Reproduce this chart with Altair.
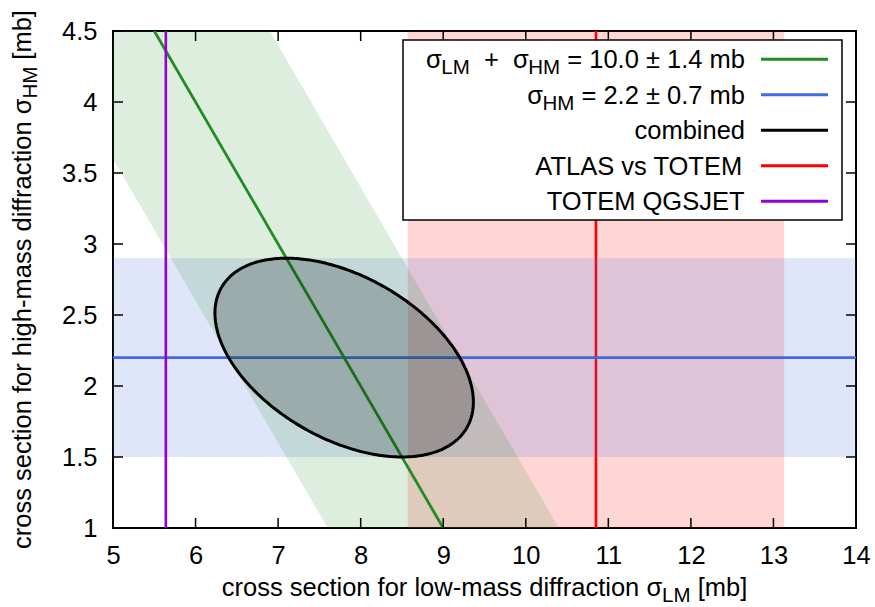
import numpy as np
import pandas as pd
import altair as alt

# ---------------- data ----------------
x_ticks = [5, 6, 7, 8, 9, 10, 11, 12, 13, 14]
y_ticks = [1.0, 1.5, 2.0, 2.5, 3.0, 3.5, 4.0, 4.5]
x_domain = [5, 14]
y_domain = [1, 4.5]

sum_value, sum_error = 10.0, 1.4                 # sigma_LM + sigma_HM
hm_value, hm_error = 2.2, 0.7                     # sigma_HM
atlas_totem_value, atlas_totem_error = 10.85, 2.28  # sigma_LM (ATLAS vs TOTEM)
totem_qgsjet_value = 5.64                         # sigma_LM (TOTEM QGSJET)

legend_rows = [
    [("σ", "main"), ("LM", "sub"), ("  +", "main"), ("  σ", "main"), ("HM", "sub"), (" = 10.0 ± 1.4 mb", "main")],
    [("σ", "main"), ("HM", "sub"), (" = 2.2 ± 0.7 mb", "main")],
    [("combined", "main")],
    [("ATLAS vs TOTEM", "main")],
    [("TOTEM QGSJET", "main")],
]
legend_colors = ["#228b22", "#4169e1", "#000000", "#ff0000", "#9400d3"]
x_title = [("cross section for low-mass diffraction σ", "main"), ("LM", "sub"), (" [mb]", "main")]
y_title = [("cross section for high-mass diffraction σ", "main"), ("HM", "sub"), (" [mb]", "main")]

GREEN, BLUE, BLACK, RED, PURPLE = legend_colors

# ---------------- layout ----------------
W, H = 743, 497
PAD = {"left": 113, "top": 31, "right": 19, "bottom": 79}
FONT = "Liberation Sans"
FS, FS_SUB, SUB_DY = 25.5, 20.5, 6

# Arial / Helvetica advance widths (per 1000 em)
AW = {' ': 278, '+': 584, '=': 584, '±': 549, '.': 278, '-': 333, '[': 278, ']': 278, 'σ': 600}
for d in "0123456789":
    AW[d] = 556
AW.update(dict(zip("abcdefghijklmnopqrstuvwxyz",
                   [556, 556, 500, 556, 556, 278, 556, 556, 222, 222, 500, 222, 833, 556, 556, 556, 556,
                    333, 500, 278, 556, 500, 722, 500, 500, 500])))
AW.update(dict(zip("ABCDEFGHIJKLMNOPQRSTUVWXYZ",
                   [667, 667, 722, 722, 667, 611, 778, 722, 278, 500, 667, 556, 833, 722, 778, 667, 778,
                    722, 667, 611, 722, 667, 944, 667, 667, 611])))


def seg_size(kind):
    return FS if kind == "main" else FS_SUB


def text_w(s, size):
    return sum(AW.get(c, 556) for c in s) / 1000.0 * size


def layout(segments, start):
    """Return (visible text, font size, position of first visible glyph, baseline shift)."""
    out, pos = [], start
    for s, kind in segments:
        size = seg_size(kind)
        lead = len(s) - len(s.lstrip(" "))
        out.append((s.strip(" "), size, pos + text_w(" " * lead, size), SUB_DY if kind == "sub" else 0))
        pos += text_w(s, size)
    return out


def total_w(segments):
    return sum(text_w(s, seg_size(k)) for s, k in segments)


xs = alt.Scale(domain=x_domain, nice=False, zero=False)
ys = alt.Scale(domain=y_domain, nice=False, zero=False)
x_axis = alt.Axis(values=x_ticks, ticks=False, domain=False, grid=False, labelFontSize=FS,
                  labelFont=FONT, labelColor="black", labelPadding=15, title=None, format="d",
                  labelOverlap=False, labelFlush=False)
y_axis = alt.Axis(values=y_ticks, ticks=False, domain=False, grid=False, labelFontSize=FS,
                  labelFont=FONT, labelColor="black", labelPadding=16, title=None, format="~g",
                  labelOverlap=False, labelFlush=False)


def X(f):
    return alt.X(f, type="quantitative", scale=xs, axis=x_axis)


def Y(f):
    return alt.Y(f, type="quantitative", scale=ys, axis=y_axis)


one = pd.DataFrame({"k": [0]})
layers = []

# ATLAS vs TOTEM band + line
red_df = pd.DataFrame({"x": [atlas_totem_value - atlas_totem_error], "x2": [atlas_totem_value + atlas_totem_error],
                       "y": [y_domain[0]], "y2": [y_domain[1]]})
layers.append(alt.Chart(red_df).mark_rect(color=RED, opacity=0.16, clip=True)
              .encode(x=X("x"), x2="x2", y=Y("y"), y2="y2"))
layers.append(alt.Chart(pd.DataFrame({"x": [atlas_totem_value]})).mark_rule(color=RED, strokeWidth=2.6)
              .encode(x=X("x")))

# sigma_HM band + line
blue_df = pd.DataFrame({"x": [x_domain[0]], "x2": [x_domain[1]],
                        "y": [hm_value - hm_error], "y2": [hm_value + hm_error]})
layers.append(alt.Chart(blue_df).mark_rect(color=BLUE, opacity=0.17, clip=True)
              .encode(x=X("x"), x2="x2", y=Y("y"), y2="y2"))
layers.append(alt.Chart(pd.DataFrame({"y": [hm_value]})).mark_rule(color=BLUE, strokeWidth=2.6)
              .encode(y=Y("y")))

# sum band + line
ys_band = np.array(y_domain, dtype=float)
green_df = pd.DataFrame({"y": ys_band, "xl": sum_value - sum_error - ys_band, "xh": sum_value + sum_error - ys_band})
layers.append(alt.Chart(green_df).mark_area(color=GREEN, opacity=0.15, clip=True, orient="horizontal")
              .encode(y=Y("y"), x=X("xl"), x2="xh"))
gline_df = pd.DataFrame({"y": ys_band, "x": sum_value - ys_band, "i": [0, 1]})
layers.append(alt.Chart(gline_df).mark_line(color=GREEN, strokeWidth=2.8, clip=True)
              .encode(x=X("x"), y=Y("y"), order="i:Q"))

# TOTEM QGSJET line
layers.append(alt.Chart(pd.DataFrame({"x": [totem_qgsjet_value]})).mark_rule(color=PURPLE, strokeWidth=2.6)
              .encode(x=X("x")))

# combined 1-sigma contour of the two constraints
a, b = sum_error, hm_error
xc, yc = sum_value - hm_value, hm_value
U = np.sqrt(a * a + b * b)
u = U * np.cos(np.linspace(0, np.pi, 301))
A = 1 / a ** 2 + 1 / b ** 2
B = 2 * u / a ** 2
C = u ** 2 / a ** 2 - 1
disc = np.sqrt(np.clip(B * B - 4 * A * C, 0, None))
fill_df = pd.DataFrame({"x": xc + u, "ylo": yc + (-B - disc) / (2 * A), "yhi": yc + (-B + disc) / (2 * A)})
layers.append(alt.Chart(fill_df).mark_area(color="black", opacity=0.2)
              .encode(x=X("x"), y=Y("ylo"), y2="yhi"))
t = np.linspace(0, 2 * np.pi, 361)
ell_df = pd.DataFrame({"x": xc + a * np.cos(t) - b * np.sin(t), "y": yc + b * np.sin(t), "i": np.arange(len(t))})
layers.append(alt.Chart(ell_df).mark_line(color="black", strokeWidth=3)
              .encode(x=X("x"), y=Y("y"), order="i:Q"))

# inward ticks on all four sides
TL = 10
xt_df = pd.DataFrame({"v": x_ticks})
yt_df = pd.DataFrame({"v": y_ticks})
layers.append(alt.Chart(xt_df).mark_rule(color="black", strokeWidth=1.5)
              .encode(x=X("v"), y=alt.value(H), y2=alt.value(H - TL)))
layers.append(alt.Chart(xt_df).mark_rule(color="black", strokeWidth=1.5)
              .encode(x=X("v"), y=alt.value(0), y2=alt.value(TL)))
layers.append(alt.Chart(yt_df).mark_rule(color="black", strokeWidth=1.5)
              .encode(y=Y("v"), x=alt.value(0), x2=alt.value(TL)))
layers.append(alt.Chart(yt_df).mark_rule(color="black", strokeWidth=1.5)
              .encode(y=Y("v"), x=alt.value(W), x2=alt.value(W - TL)))

# legend box
LB = dict(x0=290, x1=729, y0=9, y1=189)
layers.append(alt.Chart(one).mark_rect(fill="white", stroke="black", strokeWidth=1.5)
              .encode(x=alt.value(LB["x0"]), x2=alt.value(LB["x1"]), y=alt.value(LB["y0"]), y2=alt.value(LB["y1"])))
row_y = [28.3, 63.8, 99.3, 134.8, 170.3]
TEXT_RIGHT = 632
for segs, col, ry in zip(legend_rows, legend_colors, row_y):
    layers.append(alt.Chart(one).mark_rule(color=col, strokeWidth=3)
                  .encode(x=alt.value(648), x2=alt.value(715), y=alt.value(ry)))
    for s, size, px, dy in layout(segs, TEXT_RIGHT - total_w(segs)):
        layers.append(alt.Chart(one).mark_text(text=s, align="left", baseline="alphabetic", fontSize=size,
                                               font=FONT, color="black")
                      .encode(x=alt.value(px), y=alt.value(ry + 9 + dy)))

# x title
XT_BASE = H + 68
for s, size, px, dy in layout(x_title, W / 2 - total_w(x_title) / 2):
    layers.append(alt.Chart(one).mark_text(text=s, align="left", baseline="alphabetic", fontSize=size,
                                           font=FONT, color="black")
                  .encode(x=alt.value(px), y=alt.value(XT_BASE + dy)))

# y title (rotated)
YT_BASE = -82
y_start = H / 2 + total_w(y_title) / 2
for s, size, off, dy in layout(y_title, 0):
    layers.append(alt.Chart(one).mark_text(text=s, align="left", baseline="alphabetic", fontSize=size,
                                           font=FONT, color="black", angle=270)
                  .encode(x=alt.value(YT_BASE + dy), y=alt.value(y_start - off)))

chart = alt.layer(*layers).properties(
    width=W, height=H, padding=PAD, autosize=alt.AutoSizeParams(type="none"),
    background="white"
).configure_view(stroke="black", strokeWidth=2)

chart.save("out.html", embed_options={"renderer": "svg", "actions": False})
